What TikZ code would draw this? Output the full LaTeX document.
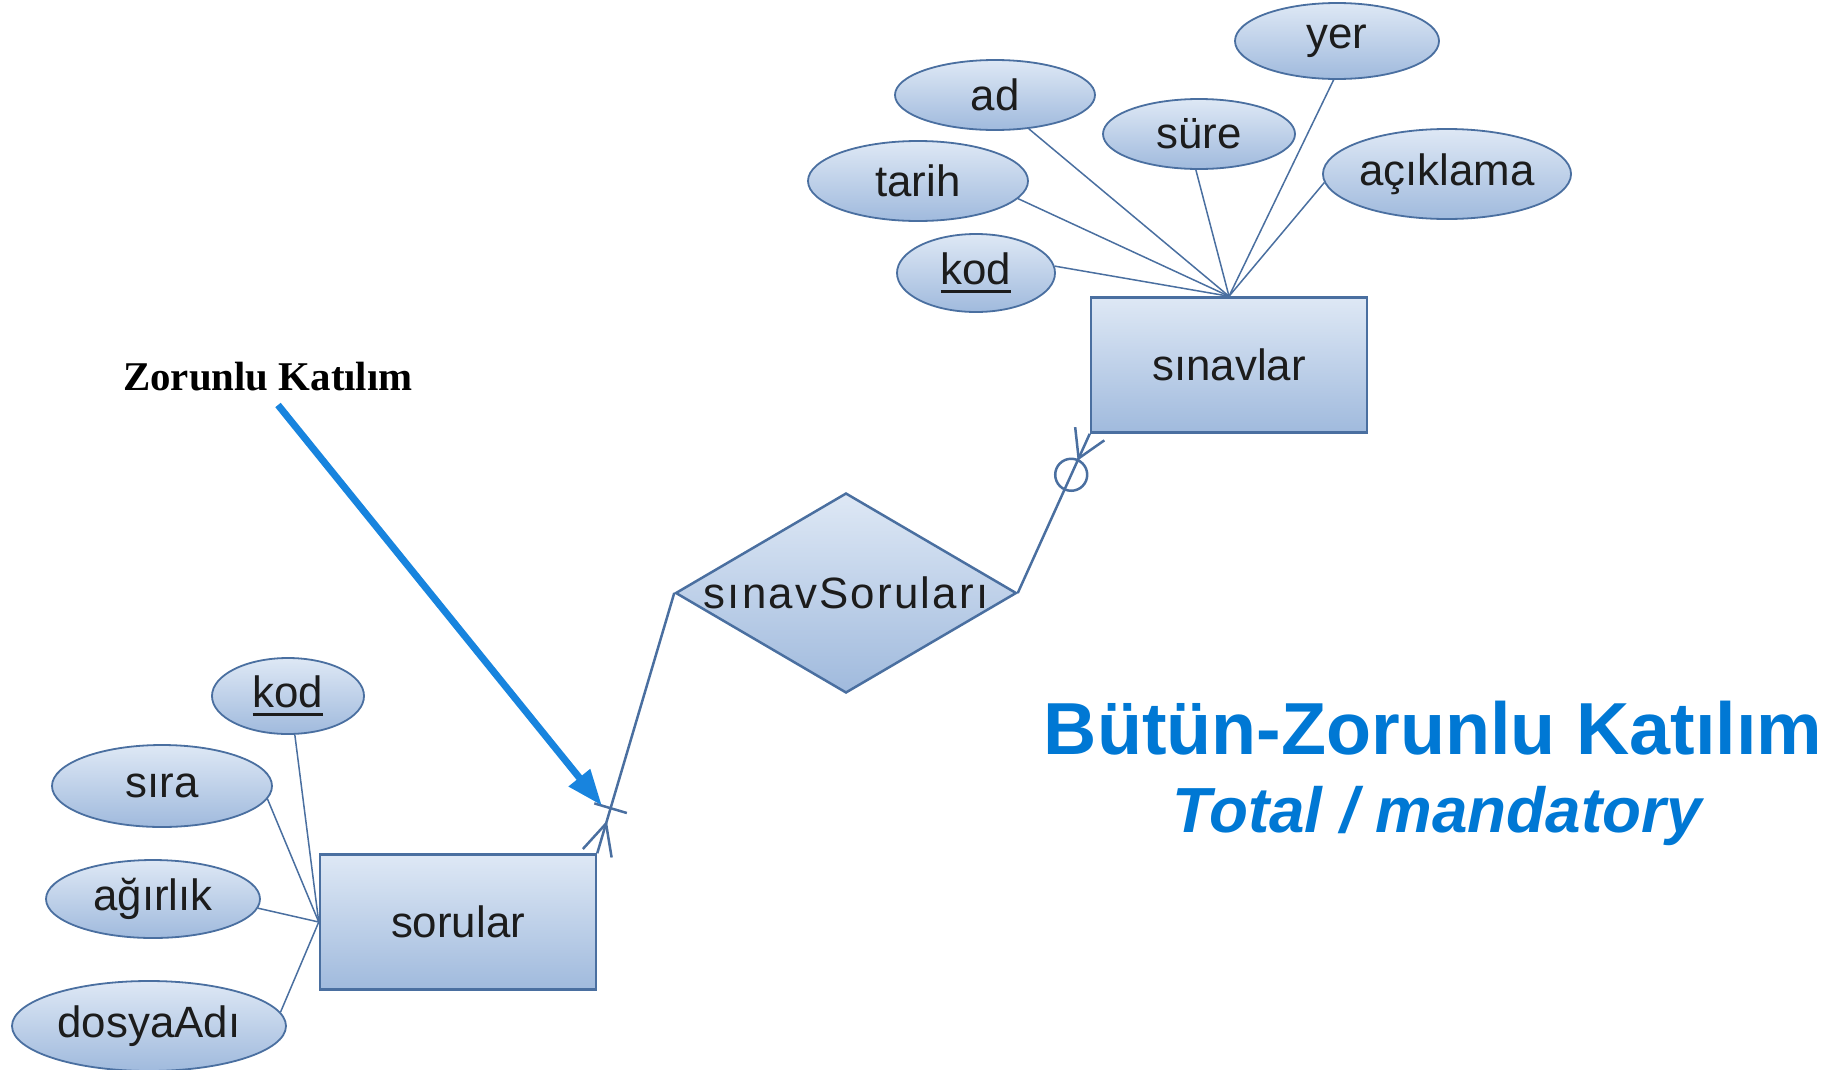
\documentclass[tikz,border=0pt]{standalone}
\usepackage{fontspec}
\setmainfont{Liberation Sans}
\newfontfamily\serifbold{Liberation Serif}
\usetikzlibrary{shapes.geometric,arrows.meta,calc}

\definecolor{erline}{RGB}{74,111,160}
\definecolor{ertop}{RGB}{222,232,245}
\definecolor{erbot}{RGB}{160,186,221}
\definecolor{erink}{RGB}{28,28,28}
\definecolor{accent}{RGB}{0,120,212}
\definecolor{arrowblue}{RGB}{24,132,222}

% underlined key attribute
\newcommand\pkey[1]{\leavevmode\setbox0\hbox{#1}\rlap{\rule[-0.2em]{\wd0}{0.08em}}\box0}

\begin{document}
\begin{tikzpicture}[x=1bp,y=-1bp,
  lbl/.style={font=\fontsize{44}{50}\selectfont, text=erink},
  entity/.style={lbl, draw=erline, line width=2.5bp, top color=ertop, bottom color=erbot,
    minimum width=276bp, minimum height=135bp, inner sep=0pt},
  attr/.style={lbl, ellipse, draw=erline, line width=1.8bp, top color=ertop, bottom color=erbot,
    inner sep=0pt},
  reldia/.style={diamond, draw=erline, line width=2.5bp, top color=ertop, bottom color=erbot,
    inner sep=0pt, minimum width=341bp, minimum height=200bp},
  attrline/.style={draw=erline, line width=1.5bp},
  relline/.style={draw=erline, line width=2.5bp},
]
\useasboundingbox (0,0) rectangle (1840,1069);

% entities
\node[entity] (sinavlar) at (1229,365) {sınavlar};
\node[entity] (sorular) at (458,922) {sorular};

% relationship
\node[reldia] (rel) at (846,593) {};
\node[lbl] (reltext) at (rel.center) {\addfontfeature{LetterSpace=5}sınavSoruları};

% attributes of sinavlar
\node[attr, minimum width=204bp, minimum height=76bp] (yer) at (1337,41) {yer};
\node[attr, minimum width=200bp, minimum height=70bp] (ad) at (995,95) {ad};
\node[attr, minimum width=192bp, minimum height=70bp] (sure) at (1199,134) {süre};
\node[attr, minimum width=220bp, minimum height=80bp] (tarih) at (918,181) {tarih};
\node[attr, minimum width=244bp, minimum height=90bp] (aciklama) at (1447,174) {açıklama};
\node[attr, minimum width=158bp, minimum height=78bp] (kodA) at (976,273) {\pkey{kod}};

\foreach \a/\ang in {yer/-95,ad/-45,sure/-95,tarih/-10,aciklama/184,kodA/5}
  \draw[attrline] (\a.\ang) -- (sinavlar.north);

% attributes of sorular
\node[attr, minimum width=152bp, minimum height=76bp] (kodB) at (288,696) {\pkey{kod}};
\node[attr, minimum width=220bp, minimum height=82bp] (sira) at (162,786) {sıra};
\node[attr, minimum width=214bp, minimum height=78bp] (agirlik) at (153,899) {ağırlık};
\node[attr, minimum width=274bp, minimum height=90bp] (dosya) at (149,1026) {dosyaAdı};

\foreach \a/\ang in {kodB/-80,sira/-7,agirlik/-5,dosya/6}
  \draw[attrline] (\a.\ang) -- (sorular.west);

% sinavlar side: zero or many
\coordinate (c1) at (sinavlar.south west);
\draw[relline] (rel.east) -- (c1);
\coordinate (v1) at ($(c1)!27bp!(rel.east)$);
\draw[relline] ($(c1)!16bp!90:(rel.east)$) -- (v1) -- ($(c1)!16bp!-90:(rel.east)$);
\draw[relline] ($(c1)!45bp!(rel.east)$) circle[radius=16bp];

% sorular side: one or many
\coordinate (c2) at (sorular.north east);
\draw[relline] (rel.west) -- (c2);
\coordinate (v2) at ($(c2)!31bp!(rel.west)$);
\draw[relline] ($(c2)!15bp!90:(rel.west)$) -- (v2) -- ($(c2)!15bp!-90:(rel.west)$);
\coordinate (bc) at ($(c2)!47bp!(rel.west)$);
\draw[relline] ($(bc)!17bp!90:(rel.west)$) -- ($(bc)!17bp!-90:(rel.west)$);
\coordinate (bartip) at ($(bc)!9bp!90:(rel.west)$);

% annotation
\node[font=\serifbold\bfseries\fontsize{41}{48}\selectfont, text=black] (zk) at (268,377) {Zorunlu Katılım};
\coordinate (zktail) at (278,405);
\draw[arrowblue, line width=7bp, -{Triangle[length=36bp,width=26bp]}] (zktail) -- (bartip);

\node[font=\bfseries\fontsize{74}{80}\selectfont, text=accent] (total) at (1433,728) {Bütün-Zorunlu Katılım};
\node[font=\bfseries\itshape\fontsize{64}{72}\selectfont, text=accent] (totalen) at (1437,816) {Total / mandatory};
\end{tikzpicture}
\end{document}
